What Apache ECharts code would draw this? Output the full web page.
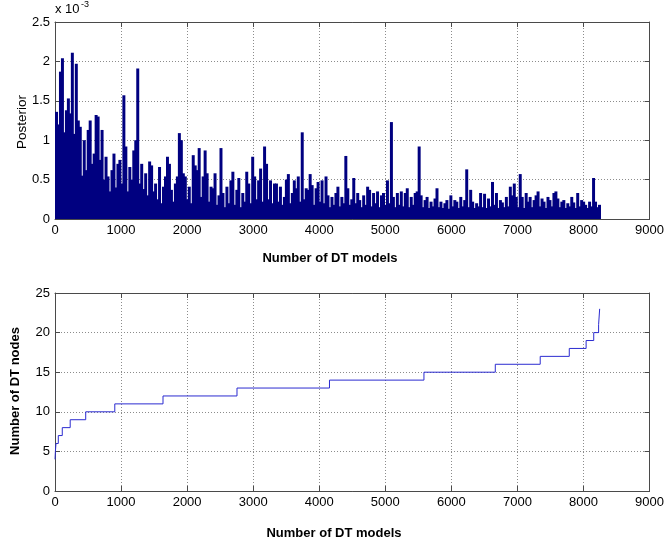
<!DOCTYPE html>
<html><head><meta charset="utf-8">
<script src="https://cdn.jsdelivr.net/npm/echarts@6/dist/echarts.min.js"></script>
<style>html,body{margin:0;padding:0;background:#fff}#c{width:667px;height:546px}</style>
</head><body><div id="c"></div>
<script>
// ---- data ----
const binSize = 30; // DT models per bin (left edge = index * binSize)
// Posterior per bin, in units of 1e-3 (peak of the bin)
const posteriorE3 = [
1.36,1.20,1.87,2.04,1.10,1.38,1.53,1.34,2.11,1.08,
1.97,1.25,1.17,0.55,1.00,0.62,1.13,1.25,0.70,0.83,
1.32,1.30,0.75,1.13,0.50,0.79,0.54,0.35,0.62,0.83,
0.40,0.70,0.75,0.45,1.57,0.92,0.35,0.66,0.50,0.87,
1.00,1.91,0.45,0.70,0.38,0.58,0.30,0.73,0.68,0.35,
0.45,0.25,0.66,0.20,0.41,0.54,
0.79,0.70,0.37,0.22,0.45,0.54,1.09,1.00,0.58,0.54,
0.25,0.41,0.20,0.81,0.68,0.62,0.90,0.28,0.54,0.87,
0.58,0.22,0.41,0.39,0.58,0.18,0.30,0.90,0.33,0.15,
0.41,0.20,0.49,0.60,0.18,0.37,0.52,0.15,0.33,0.22,
0.60,0.45,0.20,0.79,0.54,0.25,0.49,0.64,0.22,0.92,
0.70,0.25,0.49,0.20,0.45,
0.45,0.22,0.41,0.18,0.28,0.50,0.57,0.20,0.33,0.49,
0.39,0.54,0.22,1.10,0.25,0.39,0.37,0.57,0.43,0.18,
0.39,0.47,0.22,0.49,0.20,0.54,0.30,0.15,0.28,0.18,
0.33,0.41,0.16,0.28,0.20,0.80,0.39,0.18,0.25,0.52,
0.20,0.33,0.24,0.15,0.30,0.18,0.41,0.37,0.16,0.33,
0.20,0.35,0.15,0.30,0.33,
0.18,0.49,0.20,1.23,0.28,0.15,0.33,0.18,0.35,0.16,
0.33,0.39,0.15,0.28,0.18,0.33,0.35,0.92,0.30,0.15,
0.24,0.28,0.14,0.22,0.16,0.26,0.39,0.15,0.22,0.14,
0.20,0.24,0.13,0.30,0.16,0.24,0.22,0.14,0.28,0.16,
0.24,0.63,0.15,0.37,0.22,0.14,0.20,0.16,0.33,0.15,
0.32,0.14,0.26,0.16,0.47,
0.18,0.33,0.14,0.24,0.21,0.15,0.28,0.16,0.41,0.30,
0.45,0.28,0.15,0.57,0.28,0.14,0.33,0.22,0.28,0.15,
0.24,0.30,0.35,0.16,0.26,0.22,0.14,0.28,0.24,0.16,
0.33,0.35,0.26,0.15,0.22,0.24,0.14,0.20,0.16,0.28,
0.21,0.14,0.33,0.16,0.24,0.22,0.18,0.14,0.22,0.16,
0.52,0.22,0.15,0.18
];
// Number of DT nodes: model index where each level starts
const nodeStepX = [0, 6, 15, 50, 110, 230, 465, 905, 1635, 2755, 4155, 5585, 6665, 7345, 7785, 8040, 8155, 8229, 8245];
const nodeCount = [4, 5, 6, 7, 8, 9, 10, 11, 12, 13, 14, 15, 16, 17, 18, 19, 20, 21, 23];

const modelTicks = ['0','1000','2000','3000','4000','5000','6000','7000','8000','9000'];
const posteriorTicks = ['0','0.5','1','1.5','2','2.5'];
const nodeTicks = ['0','5','10','15','20','25'];

// ---- chart ----
const FONT = '"Liberation Sans", Arial, sans-serif';
const AX = '#4a4a4a';
const postData = posteriorE3.map((v, i) => [i * binSize, v]);
const nodeData = nodeStepX.map((x, i) => [x, nodeCount[i]]);

function xAxes(g) {
  return [{
    type: 'value', gridIndex: g, position: 'bottom', min: 0, max: 9000, interval: 1000,
    axisLine: {show: true, onZero: false, lineStyle: {color: AX, width: 1}},
    axisTick: {show: true, inside: true, length: 5, lineStyle: {color: AX}},
    axisLabel: {color: '#000', fontSize: 13, fontFamily: FONT, margin: 5,
      formatter: (v) => modelTicks[Math.round(v / 1000)]},
    splitLine: {show: true, lineStyle: {type: [1, 2], color: '#8c8c8c', width: 1}}
  }, {
    type: 'value', gridIndex: g, position: 'top', min: 0, max: 9000, interval: 1000,
    axisLine: {show: true, onZero: false, lineStyle: {color: AX, width: 1}},
    axisTick: {show: true, inside: true, length: 5, lineStyle: {color: AX}},
    axisLabel: {show: false}, splitLine: {show: false}
  }];
}
function yAxes(g, max, step, labels) {
  return [{
    type: 'value', gridIndex: g, position: 'left', min: 0, max: max, interval: step,
    axisLine: {show: true, onZero: false, lineStyle: {color: AX, width: 1}},
    axisTick: {show: true, inside: true, length: 5, lineStyle: {color: AX}},
    axisLabel: {color: '#000', fontSize: 13, fontFamily: FONT, margin: 5,
      formatter: (v) => labels[Math.round(v / step)]},
    splitLine: {show: true, lineStyle: {type: [1, 2], color: '#8c8c8c', width: 1}}
  }, {
    type: 'value', gridIndex: g, position: 'right', min: 0, max: max, interval: step,
    axisLine: {show: true, onZero: false, lineStyle: {color: AX, width: 1}},
    axisTick: {show: true, inside: true, length: 5, lineStyle: {color: AX}},
    axisLabel: {show: false}, splitLine: {show: false}
  }];
}

const chart = echarts.init(document.getElementById('c'), null, {renderer: 'canvas'});
chart.setOption({
  animation: false,
  backgroundColor: '#fff',
  grid: [
    {left: 55, top: 22, width: 596, height: 197},
    {left: 55, top: 293, width: 596, height: 198}
  ],
  xAxis: [...xAxes(0), ...xAxes(1)],
  yAxis: [...yAxes(0, 2.5, 0.5, posteriorTicks), ...yAxes(1, 25, 5, nodeTicks)],
  series: [{
    type: 'custom', xAxisIndex: 0, yAxisIndex: 0, data: postData, z: 1,
    encode: {x: 0, y: 1},
    renderItem: function (params, api) {
      const x = api.value(0), v = api.value(1);
      const p0 = api.coord([x, 0]);
      const p1 = api.coord([x + binSize, v]);
      return {
        type: 'rect',
        shape: {x: p0[0], y: p1[1], width: p1[0] - p0[0] + 1, height: p0[1] - p1[1]},
        style: {fill: '#000080', stroke: null}
      };
    }
  }, {
    type: 'line', xAxisIndex: 2, yAxisIndex: 2, step: 'end', data: nodeData,
    symbol: 'none', z: 3,
    lineStyle: {color: '#2b2bd0', width: 1}
  }],
  graphic: [
    {type: 'text', left: 55, top: 3, style: {text: 'x 10', font: '13px ' + FONT, fill: '#000'}},
    {type: 'text', left: 81, top: 0, style: {text: '-3', font: '9px ' + FONT, fill: '#000'}},
    {type: 'text', x: 22, y: 122, rotation: Math.PI / 2,
      style: {text: 'Posterior', font: '13.5px ' + FONT, fill: '#000', align: 'center', verticalAlign: 'middle'}},
    {type: 'text', x: 330, y: 258,
      style: {text: 'Number of DT models', font: 'bold 13px ' + FONT, fill: '#000', align: 'center', verticalAlign: 'middle'}},
    {type: 'text', x: 15, y: 391, rotation: Math.PI / 2,
      style: {text: 'Number of DT nodes', font: 'bold 13px ' + FONT, fill: '#000', align: 'center', verticalAlign: 'middle'}},
    {type: 'text', x: 334, y: 533,
      style: {text: 'Number of DT models', font: 'bold 13px ' + FONT, fill: '#000', align: 'center', verticalAlign: 'middle'}}
  ]
});
</script>
</body></html>
